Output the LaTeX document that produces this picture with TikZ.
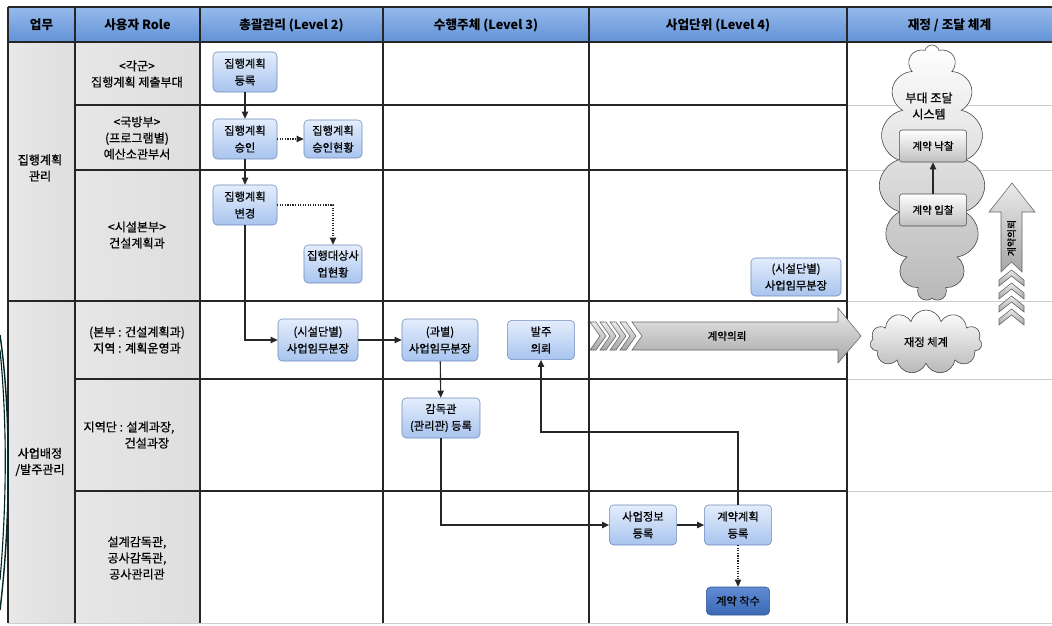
\documentclass[tikz,border=0pt]{standalone}
\usepackage{fontspec}
\setmainfont{Noto Sans CJK KR}
\newfontfamily\medfont{Noto Sans CJK KR}[FakeBold=0.6]
\usetikzlibrary{arrows.meta,positioning,shapes.symbols}
\definecolor{hdrtop}{RGB}{150,186,236}
\definecolor{hdrbot}{RGB}{98,146,214}
\definecolor{boxtop}{RGB}{228,237,252}
\definecolor{boxbot}{RGB}{168,196,238}
\definecolor{boxline}{RGB}{112,140,188}
\definecolor{colgray}{RGB}{222,222,222}
\definecolor{darktop}{RGB}{96,140,212}
\definecolor{darkbot}{RGB}{58,104,180}
\definecolor{softline}{RGB}{205,205,205}

\begin{document}
\begin{tikzpicture}[x=0.025cm, y=-0.025cm, task/.style={draw=boxline, rounded corners=3pt, top color=boxtop, bottom color=boxbot, minimum width=1.6cm, minimum height=1cm, inner sep=1pt, align=center, font=\medfont\fontsize{8}{12}\selectfont}, gbox/.style={draw=black!70, rounded corners=2pt, top color=white, bottom color=black!25, minimum width=1.68cm, minimum height=0.8cm, font=\medfont\fontsize{7.5}{10}\selectfont}, role/.style={align=center, font=\medfont\fontsize{8.6}{11.5}\selectfont}, hdr/.style={font=\fontsize{9}{11}\selectfont\bfseries}, arr/.style={-{Triangle[length=5pt,width=4.5pt]}, thick, black!85}, darr/.style={arr, densely dotted}, tline/.style={black!85, line width=0.8pt}, tlight/.style={softline, line width=0.6pt}, bigarr/.style={draw=black!60, top color=black!8, bottom color=black!35}, puff/.style={cloud, draw=black!75, top color=white, bottom color=black!28}]
\useasboundingbox (0,0) rectangle (1052,625);
\fill[white] (0,0) rectangle (1052,625);
% table
\shade[top color=hdrtop, bottom color=hdrbot] (8,7) rectangle (1052,42);
\shade[left color=colgray!70, right color=colgray] (8,42) rectangle (75,623); \shade[left color=colgray!75, right color=colgray] (75,42) rectangle (200,623);
\foreach \y in {105,170,301,379,491} \draw[tlight] (847,\y) -- (1052,\y);
\draw[tlight] (8,623) -- (1052,623);
\draw[tline] (8,7) -- (1052,7); \draw[tline] (8,42) -- (1052,42);
\foreach \x in {8,75,200,383,589,847} \draw[tline] (\x,7) -- (\x,623);
\foreach \y in {105,170,379,491} \draw[tline] (75,\y) -- (847,\y);
\draw[tline] (8,301) -- (847,301);
\draw[teal!30!black, line width=1pt] (0,335) .. controls (11,410) and (11,520) .. (0,610); \draw[teal!30!black, line width=0.8pt] (0,350) .. controls (7,420) and (7,500) .. (0,580);
% header
\node[hdr] (h1) at (41.5,25) {업무}; \node[hdr] (h2) at (137.5,25) {사용자 Role}; \node[hdr] (h3) at (291.5,25) {총괄관리 (Level 2)}; \node[hdr] (h4) at (486,25) {수행주체 (Level 3)}; \node[hdr] (h5) at (718,25) {사업단위 (Level 4)}; \node[hdr] (h6) at (949.5,25) {재정 / 조달 체계};
% roles
\node[role] (g1) at (40,168) {집행계획\\관리}; \node[role] (g2) at (40,462) {사업배정\\/발주관리};
\node[role] (r1) at (137,74) {<각군>\\집행계획 제출부대}; \node[role] (r2) at (137,138) {<국방부>\\(프로그램별)\\예산소관부서}; \node[role] (r3) at (137,235) {<시설본부>\\건설계획과};
\node[role] (r4) at (137,340) {(본부 : 건설계획과)\\지역 : 계획운영과}; \node[role, align=left] (r5) at (129,435) {지역단 : 설계과장,\\\hspace{3.4em}건설과장}; \node[role] (r6) at (137,558) {설계감독관,\\공사감독관,\\공사관리관};
% tasks
\node[task] (reg) at (245,72) {집행계획\\등록}; \node[task] (appr) at (245,139) {집행계획\\승인}; \node[task, minimum width=1.45cm, minimum height=0.95cm] (apprst) at (333,139) {집행계획\\승인현황};
\node[task] (chg) at (245,205) {집행계획\\변경}; \node[task, minimum width=1.45cm, minimum height=0.95cm] (chgst) at (333,264) {집행대상사\\업현황}; \node[task, minimum width=2.25cm, minimum height=0.95cm] (facdiv) at (796,277) {(시설단별)\\사업임무분장};
\node[task, minimum width=2cm, minimum height=1.05cm] (facjob) at (318,340) {(시설단별)\\사업임무분장}; \node[task, minimum width=1.9cm, minimum height=1.05cm] (secjob) at (440,340) {(과별)\\사업임무분장}; \node[task, minimum width=1.68cm, minimum height=0.98cm] (order) at (541,340) {발주\\의뢰};
\node[task, minimum width=1.95cm] (super) at (441,418) {감독관\\(관리관) 등록}; \node[task, minimum width=1.68cm] (info) at (643,525) {사업정보\\등록}; \node[task, minimum width=1.68cm] (plan) at (738,525) {계약계획\\등록};
\node[task, draw=darkbot!80!black, top color=darktop, bottom color=darkbot, minimum width=1.58cm, minimum height=0.7cm] (start) at (738,601) {계약 착수};
\draw[arr] (reg) -- (appr); \draw[arr] (appr) -- (chg); \draw[darr] (appr) -- (apprst); \draw[darr] (chg.east) -| (chgst.north);
\draw[arr] (chg) |- (facjob); \draw[arr] (facjob) -- (secjob); \draw[arr] (secjob) -- (super); \draw[arr] (super) |- (info); \draw[arr] (info) -- (plan);
\coordinate (bend) at (541,432); \draw[arr] (plan) |- (bend) -- (order); \draw[darr] (plan) -- (start);
% big arrows
\foreach \x in {590,600,610,620} \draw[bigarr] (\x,322) -- ++(6,0) -- ++(10,14) -- ++(-10,14) -- ++(-6,0) -- ++(10,-14) -- cycle;
\draw[bigarr] (632,322) -- (838,322) -- (838,308) -- (861,336) -- (838,363) -- (838,350) -- (632,350) -- (642,336) -- cycle;
\node[font=\medfont\fontsize{7.5}{9}\selectfont] (reqtxt) at (727,336) {계약의뢰};
\draw[bigarr] (1001,272) -- (1001,212) -- (989,212) -- (1012,183) -- (1035,212) -- (1022,212) -- (1022,272) -- (1011.5,262) -- cycle;
\foreach \y in {270,283,296,309} \draw[bigarr] (1011.5,\y) -- (1024,\y+10) -- (1024,\y+16) -- (1011.5,\y+6) -- (999,\y+16) -- (999,\y+10) -- cycle;
\node[rotate=90, font=\medfont\fontsize{7}{8}\selectfont] (uptxt) at (1011.5,238) {계약의뢰};
% clouds
\node[puff, cloud puffs=15, aspect=0.42, minimum width=2.65cm, minimum height=6.4cm] (procure) at (932,173) {};
\node[role] (proctxt) at (929,106) {부대 조달\\시스템};
\node[gbox] (award) at (933,146) {계약 낙찰}; \node[gbox] (bid) at (933,210) {계약 입찰}; \draw[arr] (bid) -- (award);
\node[puff, cloud puffs=11, aspect=1.7, minimum width=2.8cm, minimum height=1.6cm, font=\medfont\fontsize{8}{10}\selectfont] (finance) at (926,342) {재정 체계};
\end{tikzpicture}
\end{document}
